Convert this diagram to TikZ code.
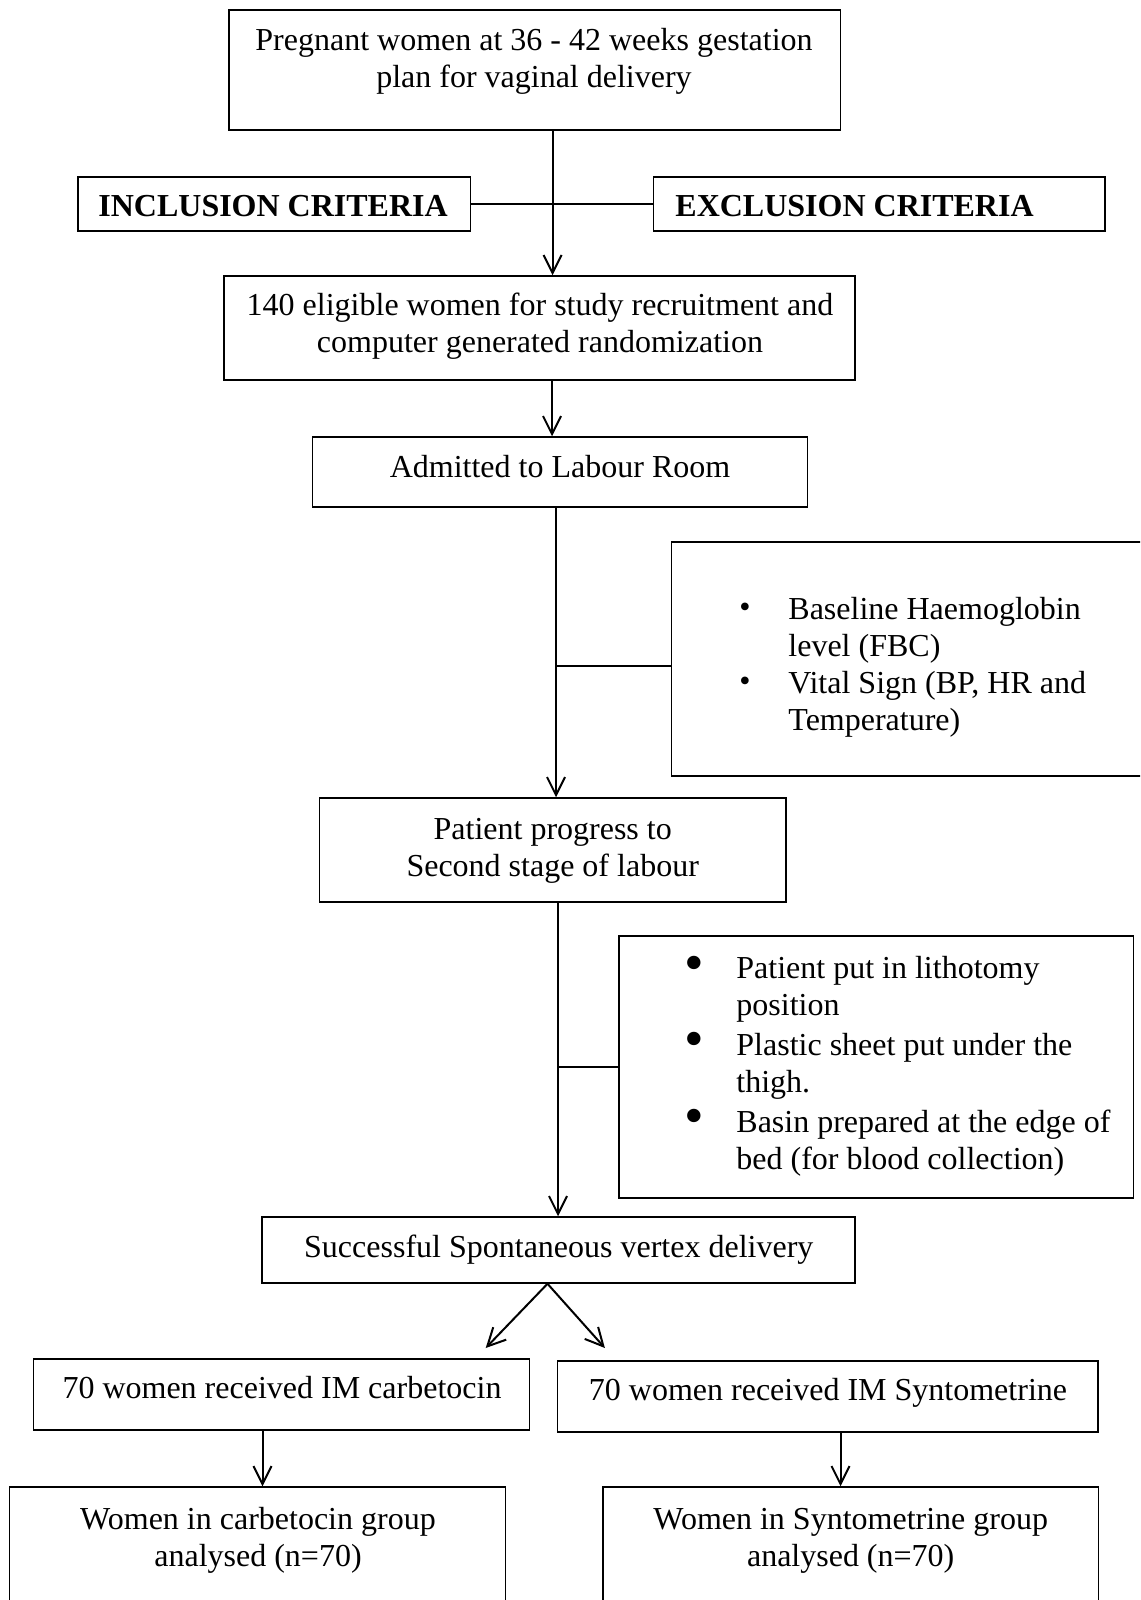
\documentclass[tikz,border=0pt]{standalone}
\usepackage{fontspec}
\setmainfont{Liberation Serif}
\usetikzlibrary{arrows.meta}
\begin{document}
\begin{tikzpicture}[x=0.5pt,y=-0.5pt,
 box/.style={draw, line width=0.75pt, inner sep=0pt, rectangle},
 txt/.style={font=\fontsize{16}{18.5}\selectfont, inner sep=0pt, align=center, anchor=base},
 ltxt/.style={font=\fontsize{16}{18.5}\selectfont, inner sep=0pt, align=left, anchor=base west},
 btxt/.style={font=\fontsize{16}{18.5}\selectfont\bfseries, inner sep=0pt, anchor=base west},
 bulA/.style={font=\fontsize{16}{16}\selectfont, inner sep=0pt, anchor=center},
 bulB/.style={font=\fontsize{28}{28}\selectfont, inner sep=0pt, anchor=center},
 arr/.style={line width=1pt, -{Straight Barb[length=9pt,width=9pt]}},
 ln/.style={line width=1pt},
]
\useasboundingbox (0,0) rectangle (1140,1600);
\clip (0,0) rectangle (1140,1600);

% boxes
\node[box, minimum width=305.75pt, minimum height=60pt] (top) at (534.8,70) {};
\node[box, minimum width=196.3pt, minimum height=27pt] (inc) at (274.1,204) {};
\node[box, minimum width=225.75pt, minimum height=27pt] (exc) at (879.4,204) {};
\node[box, minimum width=315.55pt, minimum height=52pt] (b140) at (539.5,328) {};
\node[box, minimum width=247.5pt, minimum height=35pt] (adm) at (559.8,472) {};
\node[box, minimum width=239.25pt, minimum height=117pt] (bl1) at (910.75,659) {};
\node[box, minimum width=233.2pt, minimum height=52pt] (prog) at (552.7,850) {};
\node[box, minimum width=257.25pt, minimum height=131pt] (bl2) at (876.25,1067) {};
\node[box, minimum width=296.65pt, minimum height=33pt] (succ) at (558.4,1250) {};
\node[box, minimum width=247.95pt, minimum height=35.5pt] (carb) at (281.4,1394.5) {};
\node[box, minimum width=270.1pt, minimum height=35.5pt] (synt) at (827.8,1396.5) {};
\node[box, minimum width=247.9pt, minimum height=66.5pt] (bL) at (257.4,1553.5) {};
\node[box, minimum width=247.95pt, minimum height=66.5pt] (bR) at (850.7,1553.5) {};

% texts
\node[txt] (topT) at (534,88) {Pregnant women at 36 - 42 weeks gestation\\plan for vaginal delivery};
\node[btxt] (incT) at (98,216) {INCLUSION CRITERIA};
\node[btxt] (excT) at (675,216) {EXCLUSION CRITERIA};
\node[txt] (b140T) at (540,352) {140 eligible women for study recruitment and\\computer generated randomization};
\node[txt] (admT) at (560,477) {Admitted to Labour Room};
\node[bulA] (bu1) at (745,610) {•};
\node[ltxt] (i1) at (788,656) {Baseline Haemoglobin\\level (FBC)};
\node[bulA] (bu2) at (745,684) {•};
\node[ltxt] (i2) at (788,730.5) {Vital Sign (BP, HR and\\Temperature)};
\node[txt] (progT) at (552.7,876) {Patient progress to\\Second stage of labour};
\node[bulB] (bu3) at (694,968.5) {•};
\node[ltxt] (i3) at (736,1015.5) {Patient put in lithotomy\\position};
\node[bulB] (bu4) at (694,1045) {•};
\node[ltxt] (i4) at (736,1092.5) {Plastic sheet put under the\\thigh.};
\node[bulB] (bu5) at (694,1121.6) {•};
\node[ltxt] (i5) at (736,1169) {Basin prepared at the edge of\\bed (for blood collection)};
\node[txt] (succT) at (558.8,1257.5) {Successful Spontaneous vertex delivery};
\node[txt] (carbT) at (282,1398.5) {70 women received IM carbetocin};
\node[txt] (syntT) at (828,1400.5) {70 women received IM Syntometrine};
\node[txt] (bLT) at (258,1566) {Women in carbetocin group\\analysed (n=70)};
\node[txt] (bRT) at (850.7,1566) {Women in Syntometrine group\\analysed (n=70)};

% connectors
\coordinate (x1) at (552.6,0);
\draw[arr] (top.south -| x1) -- (b140.north -| x1);
\draw[ln] (inc.east) -- (exc.west);
\coordinate (x2) at (552,0);
\draw[arr] (b140.south -| x2) -- (adm.north -| x2);
\coordinate (x3) at (556,0);
\draw[arr] (adm.south -| x3) -- (prog.north -| x3);
\coordinate (j1) at (556,666);
\draw[ln] (j1) -- (j1 -| bl1.west);
\coordinate (x4) at (558,0);
\draw[arr] (prog.south -| x4) -- (succ.north -| x4);
\draw[ln] (bl2.west -| x4) -- (bl2.west);
\coordinate (d0) at (547.5,0);
\coordinate (dl) at (485.7,1348);
\coordinate (dr) at (604.9,1348);
\draw[arr] (succ.south -| d0) -- (dl);
\draw[arr] (succ.south -| d0) -- (dr);
\coordinate (x5) at (262.5,0);
\draw[arr] (carb.south -| x5) -- (bL.north -| x5);
\coordinate (x6) at (840.5,0);
\draw[arr] (synt.south -| x6) -- (bR.north -| x6);
\end{tikzpicture}
\end{document}
